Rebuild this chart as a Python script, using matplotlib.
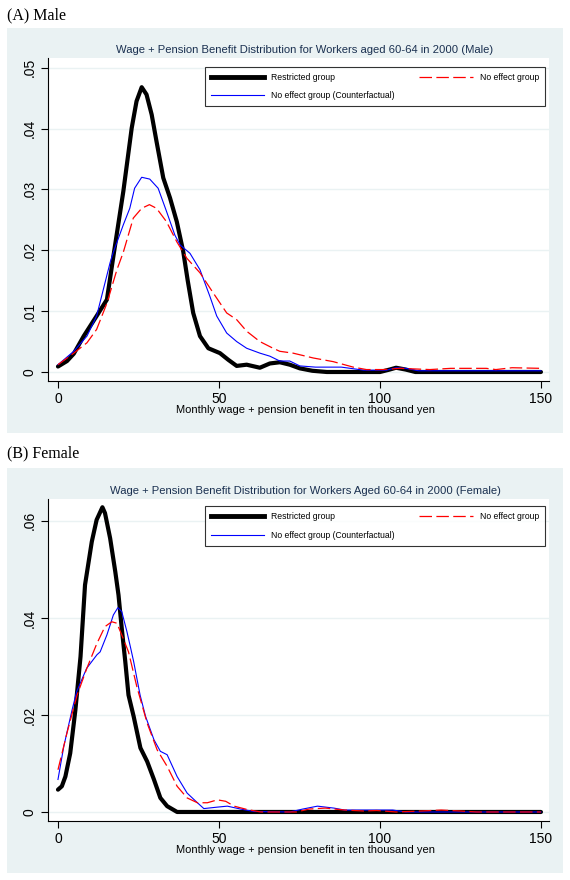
import matplotlib
matplotlib.use("Agg")
import matplotlib.pyplot as plt
from matplotlib.patches import Rectangle
from matplotlib.lines import Line2D

# ---- Panel A: Male (x in ten thousand yen, y density) ----
m_restr_x = [0, 2.8, 4.9, 8, 12, 15.2, 17.2, 20.3, 22.9, 24.4, 26.0, 27.5, 29.1, 30.6, 32.7, 34.8,
             36.9, 38.9, 40.3, 42, 44.1, 46.7, 50.3, 52.9, 55.5, 58.6, 62.7, 65.8, 68.9, 72, 75.1,
             79, 83.5, 100, 103, 105, 108, 111, 150]
m_restr_y = [0.0009, 0.0018, 0.003, 0.0059, 0.0092, 0.0119, 0.0190, 0.0297, 0.0401, 0.0445, 0.0468,
             0.0456, 0.0423, 0.0379, 0.0319, 0.0286, 0.0247, 0.0198, 0.0150, 0.0097, 0.0059, 0.0039,
             0.0031, 0.002, 0.001, 0.0012, 0.0007, 0.0014, 0.0016, 0.0012, 0.0006, 0.0002, 0.0,
             0.0, 0.0004, 0.0007, 0.0004, 0.0, 0.0]

m_cf_x = [0, 4.9, 9, 12, 16.2, 17.2, 20.3, 22.3, 23.8, 26.0, 28.5, 31.1, 33.7, 36.3, 37.9, 41, 44.1,
          47.2, 49.3, 52.4, 55.5, 58.6, 62.7, 65.8, 68.9, 72, 75.1, 80, 88, 95, 102, 105, 108,
          112, 150]
m_cf_y = [0.0012, 0.0034, 0.0059, 0.0092, 0.018, 0.0197, 0.0242, 0.0269, 0.0302, 0.032, 0.0317,
          0.0302, 0.0264, 0.0225, 0.0209, 0.0195, 0.0168, 0.0124, 0.0092, 0.0064, 0.005, 0.0039,
          0.0031, 0.0026, 0.0018, 0.0018, 0.0010, 0.0008, 0.0008, 0.0003, 0.0003, 0.0007, 0.0006,
          0.0002, 0.0002]

m_noeff_x = [0, 4.9, 9, 12, 15.2, 18.3, 20.3, 23.4, 26.0, 28.4, 30.6, 33.7, 36.9, 40, 44.1, 48.2,
             52.4, 55.5, 58.6, 62.7, 66.8, 68.9, 73, 79.3, 85.5, 91.7, 95.8, 101, 106.2, 115.5,
             122, 133, 136, 141, 150]
m_noeff_y = [0.0012, 0.0031, 0.0048, 0.007, 0.0113, 0.0168, 0.0197, 0.0253, 0.0269, 0.0275, 0.0269,
             0.0247, 0.0214, 0.0187, 0.0163, 0.013, 0.0097, 0.0086, 0.0067, 0.005, 0.0039, 0.0034,
             0.0031, 0.0023, 0.0017, 0.0008, 0.0004, 0.0004, 0.0006, 0.0004, 0.0006, 0.0006,
             0.0004, 0.0007, 0.0006]

# ---- Panel B: Female ----
f_restr_x = [0, 1.2, 2.3, 3.8, 5.4, 7, 8.4, 10.5, 12.0, 13.8, 14.6, 16.2, 17.8, 18.8, 19.8, 20.9,
             21.9, 23.5, 25.6, 27.7, 29.8, 31.8, 33.9, 37, 150]
f_restr_y = [0.0046, 0.0053, 0.0073, 0.0121, 0.021, 0.032, 0.0468, 0.0557, 0.0602, 0.0628, 0.0616,
             0.0564, 0.0495, 0.0447, 0.0379, 0.031, 0.0241, 0.0197, 0.0132, 0.0104, 0.0067, 0.0029,
             0.0012, 0.0, 0.0]

f_cf_x = [0, 1.8, 4.4, 5.8, 8.9, 12.1, 13.1, 15.2, 17.2, 18.6, 19.8, 21.4, 22.5, 23.5, 25.5, 27.2,
          29.8, 31.8, 33.9, 37, 40.1, 43.3, 45.3, 49.5, 52.6, 56.7, 60.9, 72, 76, 80.6, 85.7, 89,
          104, 108, 150]
f_cf_y = [0.0067, 0.0135, 0.0211, 0.0248, 0.0296, 0.0324, 0.033, 0.0365, 0.0406, 0.0421, 0.0413,
          0.0372, 0.034, 0.031, 0.0241, 0.0197, 0.0149, 0.0125, 0.0118, 0.0073, 0.0039, 0.0019,
          0.0007, 0.001, 0.0012, 0.0006, 0.0001, 0.0, 0.0006, 0.0012, 0.0008, 0.0004, 0.0004,
          0.0, 0.0]

f_noeff_x = [0, 2.8, 5.9, 8.9, 12.0, 14.6, 16.7, 18.3, 19.8, 21.9, 24.5, 27.7, 30.8, 33.9, 37, 40.1,
             43.3, 46.4, 49.5, 52.1, 54.7, 58.8, 63, 74, 78, 83, 89, 95, 99, 105, 113, 119, 125,
             130, 150]
f_noeff_y = [0.0087, 0.0163, 0.024, 0.0295, 0.0346, 0.0382, 0.0392, 0.0389, 0.0365, 0.033, 0.0258,
             0.0183, 0.0128, 0.0094, 0.0053, 0.0029, 0.0019, 0.0019, 0.0025, 0.0022, 0.0012, 0.0005,
             0.0, 0.0, 0.0006, 0.0008, 0.0004, 0.0002, 0.0003, 0.0, 0.0002, 0.0004, 0.0002, 0.0,
             0.0]

x_ticks = [0, 50, 100, 150]
m_yticks = [0, 0.01, 0.02, 0.03, 0.04, 0.05]
m_ylabels = ["0", ".01", ".02", ".03", ".04", ".05"]
f_yticks = [0, 0.02, 0.04, 0.06]
f_ylabels = ["0", ".02", ".04", ".06"]

labels = ["Restricted group", "No effect group (Counterfactual)", "No effect group"]

BG = '#eaf2f3'
TITLE_C = '#1a3050'
W, H = 570, 880

plt.rcParams['font.family'] = ['Liberation Sans', 'DejaVu Sans']

fig = plt.figure(figsize=(W / 100, H / 100), dpi=100)
fig.patch.set_facecolor('white')


def px_rect(x0, y0, x1, y1):
    # rectangle given in pixel coords measured from top-left
    return Rectangle((x0 / W, 1 - y1 / H), (x1 - x0) / W, (y1 - y0) / H,
                     transform=fig.transFigure, facecolor=BG, edgecolor='none', zorder=-10)


def panel(top_px, bot_px, rx, ry, cx, cy, nx, ny, yticks, ylabels, ylim, title, leg_top, leg_bot):
    ax = fig.add_axes([48 / W, 1 - bot_px / H, (549 - 48) / W, (bot_px - top_px) / H])
    ax.set_zorder(5)
    ax.set_facecolor('white')
    ax.plot(rx, ry, color='black', lw=3.0, solid_capstyle='round', solid_joinstyle='round', zorder=3)
    ax.plot(cx, cy, color='#0000ff', lw=0.8, solid_joinstyle='round', zorder=4)
    ax.plot(nx, ny, color='#ff0000', lw=0.9, linestyle=(0, (10, 3.5)), zorder=5)
    ax.set_xlim(-3.1, 152.5)
    ax.set_ylim(*ylim)
    ax.set_xticks(x_ticks)
    ax.set_xticklabels([str(t) for t in x_ticks])
    ax.set_yticks(yticks)
    ax.set_yticklabels(ylabels, rotation=90, va='center')
    ax.tick_params(axis='both', labelsize=10, length=5, width=0.8, direction='out', pad=3)
    for s in ['top', 'right']:
        ax.spines[s].set_visible(False)
    for s in ['left', 'bottom']:
        ax.spines[s].set_linewidth(0.8)
    ax.grid(axis='y', color=BG, linewidth=1.0, zorder=0)
    ax.set_axisbelow(True)
    ax.set_xlabel("Monthly wage + pension benefit in ten thousand yen", fontsize=8, labelpad=-1)
    ax.xaxis.set_label_coords((305 - 48) / 501, -0.075)
    ax.text((305 - 48) / 501, 1 + 8 / (bot_px - top_px), title, transform=ax.transAxes,
            fontsize=8.1, color=TITLE_C, ha='center', va='center')

    handles = [Line2D([], [], color='black', lw=3.5),
               Line2D([], [], color='#0000ff', lw=0.8),
               Line2D([], [], color='#ff0000', lw=0.9, linestyle=(0, (10, 3.5)))]
    tr = ax.transAxes.inverted()
    (lx0, ly0) = tr.transform(fig.transFigure.transform((205 / W, 1 - leg_bot / H)))
    (lx1, ly1) = tr.transform(fig.transFigure.transform((545 / W, 1 - leg_top / H)))
    leg = ax.legend(handles, labels, ncol=2, mode='expand', fontsize=6.2,
                    bbox_to_anchor=(lx0, ly0, lx1 - lx0, ly1 - ly0), loc='center',
                    borderaxespad=0, frameon=True, fancybox=False, handlelength=6.2,
                    handletextpad=0.8, labelspacing=1.1, borderpad=0.7)
    leg.get_frame().set_edgecolor('black')
    leg.get_frame().set_linewidth(0.8)
    return ax


fig.patches.append(px_rect(7, 28, 563, 433))
fig.patches.append(px_rect(7, 468, 563, 873))

fig.text(7 / W, 1 - 15 / H, "(A) Male", family=['Liberation Serif'], fontsize=11.5, va='center')
fig.text(7 / W, 1 - 453 / H, "(B) Female", family=['Liberation Serif'], fontsize=11.5, va='center')

panel(58, 381, m_restr_x, m_restr_y, m_cf_x, m_cf_y, m_noeff_x, m_noeff_y,
      m_yticks, m_ylabels, (-0.00148, 0.0516),
      "Wage + Pension Benefit Distribution for Workers aged 60-64 in 2000 (Male)", 64, 109)
panel(499, 821, f_restr_x, f_restr_y, f_cf_x, f_cf_y, f_noeff_x, f_noeff_y,
      f_yticks, f_ylabels, (-0.00186, 0.0645),
      "Wage + Pension Benefit Distribution for Workers Aged 60-64 in 2000 (Female)", 503, 549)

fig.savefig("out.png", dpi=100, facecolor='white')
